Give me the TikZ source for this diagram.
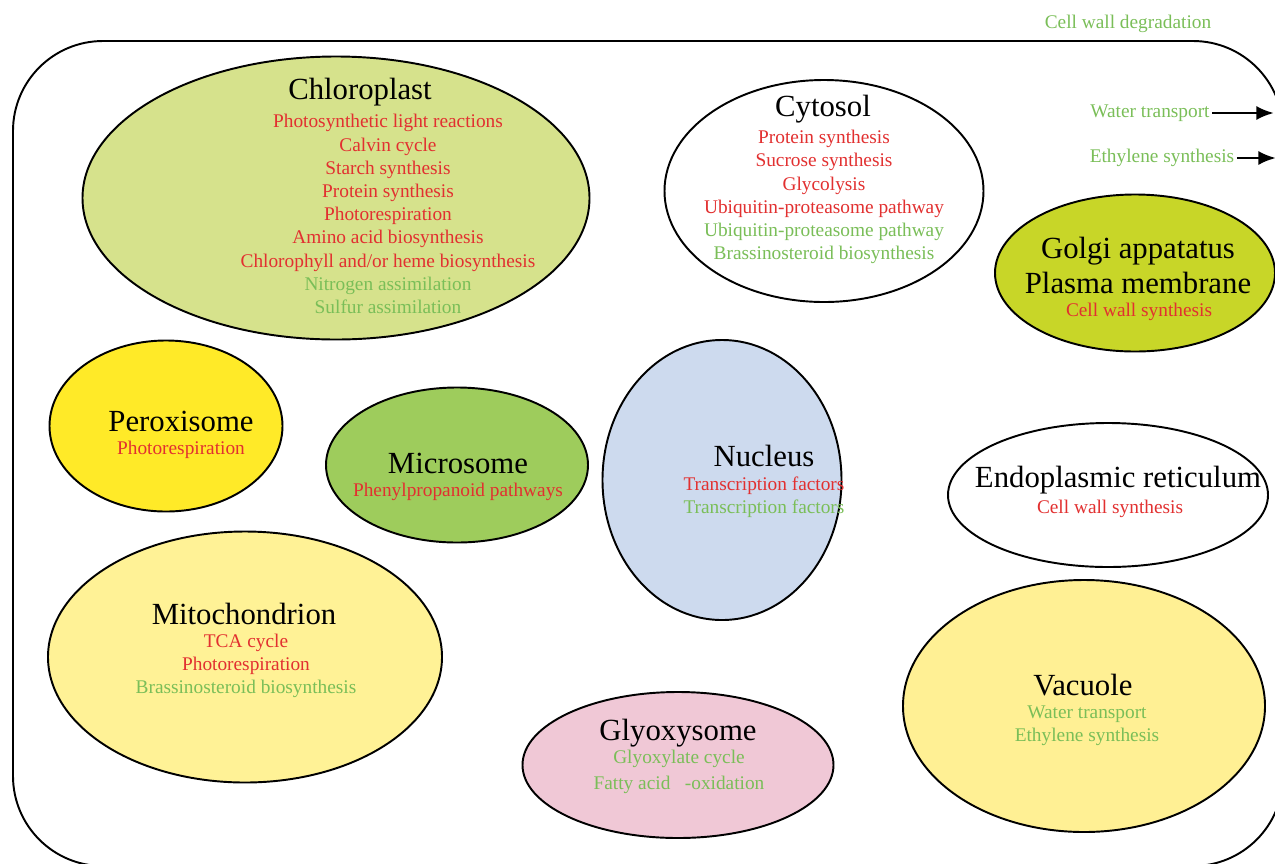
\documentclass[tikz,border=0pt]{standalone}
\usepackage{fontspec}
\setmainfont{Liberation Serif}
\usetikzlibrary{shapes.geometric,arrows.meta,positioning}
\definecolor{myred}{RGB}{226,48,48}
\definecolor{mygreen}{RGB}{122,190,88}
\definecolor{mychloro}{RGB}{214,226,140}
\definecolor{mygolgi}{RGB}{200,214,40}
\definecolor{myperox}{RGB}{255,234,40}
\definecolor{mymicro}{RGB}{158,204,92}
\definecolor{mynucleus}{RGB}{205,218,238}
\definecolor{mymito}{RGB}{255,242,150}
\definecolor{myglyox}{RGB}{240,200,214}
\definecolor{myvac}{RGB}{255,240,148}
\definecolor{mywhite}{RGB}{255,255,255}

\begin{document}
\begin{tikzpicture}[
  x=0.02cm, y=-0.02cm,
  line width=1.1pt,
  organelle/.style={
    draw,
    ellipse,
    inner sep=0pt,
    fill=#1
    },
  title/.style={
    font=\fontsize{17.5}{19.8}\selectfont,
    align=center,
    inner sep=1pt
    },
  items/.style={
    font=\fontsize{11}{13.2}\selectfont,
    align=center,
    inner sep=1pt
    },
  pointer/.style={
    line width=1.6pt,
    -{Latex[length=10pt,width=8pt]}
  }
]

\useasboundingbox (0,0) rectangle (1275,863);
\clip (0,0) rectangle (1275,863);

% cell outline
\draw[rounded corners=1.8cm] (13,41) rectangle (1283,866);

% organelles
\foreach \Nm/\X/\Y/\W/\H/\Fc in {
  chloro/336/198/507/283/mychloro,
  cytosol/824/191/319/222/mywhite,
  golgi/1135/273/280/157/mygolgi,
  perox/166/426/233/171/myperox,
  micro/457/465/262/155/mymicro,
  nucleus/722/480/239/280/mynucleus,
  er/1108/495/320/144/mywhite,
  mito/245/657/394/251/mymito,
  glyox/678/765/311/146/myglyox,
  vacuole/1084/706/362/252/myvac}
  \node[organelle=\Fc, minimum width=\W*0.02cm, minimum height=\H*0.02cm] (\Nm) at (\X,\Y) {};

% labels
\node[title] (chloro-t) at (360,92) {Chloroplast};
\node[items] (chloro-l) at (388,214) {
  \textcolor{myred}{Photosynthetic light reactions}\\
  \textcolor{myred}{Calvin cycle}\\
  \textcolor{myred}{Starch synthesis}\\
  \textcolor{myred}{Protein synthesis}\\
  \textcolor{myred}{Photorespiration}\\
  \textcolor{myred}{Amino acid biosynthesis}\\
  \textcolor{myred}{Chlorophyll and/or heme biosynthesis}\\
  \textcolor{mygreen}{Nitrogen assimilation}\\
  \textcolor{mygreen}{Sulfur assimilation}};

\node[title] (cytosol-t) at (823,109) {Cytosol};
\node[items] (cytosol-l) at (824,197) {
  \textcolor{myred}{Protein synthesis}\\
  \textcolor{myred}{Sucrose synthesis}\\
  \textcolor{myred}{Glycolysis}\\
  \textcolor{myred}{Ubiquitin-proteasome pathway}\\
  \textcolor{mygreen}{Ubiquitin-proteasome pathway}\\
  \textcolor{mygreen}{Brassinosteroid biosynthesis}};

\node[title] (golgi-t) at (1138,265.5) {Golgi appatatus\\Plasma membrane};
\node[items, text=myred] (golgi-l) at (1139,312) {Cell wall synthesis};

\node[title] (perox-t) at (181,421) {Peroxisome};
\node[items, text=myred] (perox-l) at (181,450) {Photorespiration};

\node[title] (micro-t) at (458,463) {Microsome};
\node[items, text=myred] (micro-l) at (458,492) {Phenylpropanoid pathways};

\node[title] (nucleus-t) at (764,456) {Nucleus};
\node[items] (nucleus-l) at (764,497.5) {
  \textcolor{myred}{Transcription factors}\\
  \textcolor{mygreen}{Transcription factors}};

\node[title] (er-t) at (1118,480) {Endoplasmic reticulum};
\node[items, text=myred] (er-l) at (1110,509) {Cell wall synthesis};

\node[title] (mito-t) at (244,614) {Mitochondrion};
\node[items] (mito-l) at (246,666) {
  \textcolor{myred}{TCA cycle}\\
  \textcolor{myred}{Photorespiration}\\
  \textcolor{mygreen}{Brassinosteroid biosynthesis}};

\node[title] (glyox-t) at (678,733) {Glyoxysome};
\node[items, text=mygreen] (glyox-l) at (679,772) {
  Glyoxylate cycle\\[1.2pt]
  Fatty acid\hspace{0.75em}-oxidation};

\node[title] (vacuole-t) at (1083,685) {Vacuole};
\node[items, text=mygreen] (vacuole-l) at (1087,725.5) {
  Water transport\\
  Ethylene synthesis};

% outside the cell
\node[items, text=mygreen] (cwd) at (1128,24) {Cell wall degradation};
\node[items, text=mygreen] (wt) at (1150,113) {Water transport};
\node[items, text=mygreen] (es) at (1162,158) {Ethylene synthesis};
\coordinate (wt-end) at (1274,113);
\coordinate (es-end) at (1276,158);
\draw[pointer] (wt.east) -- (wt-end);
\draw[pointer] (es.east) -- (es-end);

\end{tikzpicture}
\end{document}
